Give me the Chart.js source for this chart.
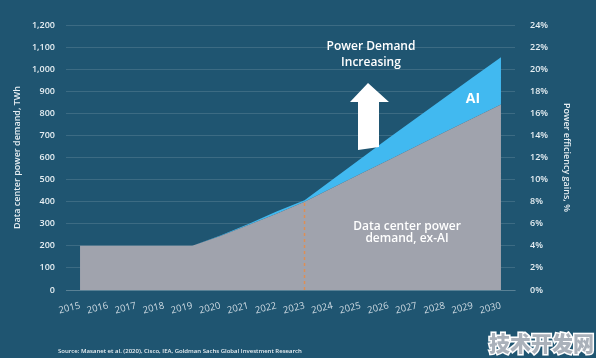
<!DOCTYPE html>
<html>
<head>
<meta charset="utf-8">
<script src="https://cdn.jsdelivr.net/npm/chart.js@4.4.1/dist/chart.umd.min.js"></script>
<style>
  html, body { margin: 0; padding: 0; background: #1f5571; }
  #wrap { width: 596px; height: 358px; position: relative; }
</style>
</head>
<body>
<div id="wrap"><canvas id="myChart" width="596" height="358"></canvas></div>
<script>
const years = ["2015", "2016", "2017", "2018", "2019", "2020", "2021", "2022",
    "2023", "2024", "2025", "2026", "2027", "2028", "2029", "2030"];
// TWh, data center demand excluding AI
const exAI = [200, 200, 200, 200, 200, 245, 294, 345, 400, 463, 526, 589, 652, 715, 778, 840];
// TWh, total demand including AI
const total = [200, 200, 200, 200, 200, 247, 299, 355, 406, 500, 594, 688, 780, 872, 963, 1054];
const markerYear = "2023";

const font = "'Open Sans', 'DejaVu Sans', sans-serif";

const overlay = {
    id: "overlay",
    afterDatasetsDraw(chart) {
        const { ctx, scales } = chart;
        ctx.save();
        // dashed marker at 2023
        const i = years.indexOf(markerYear);
        const x = scales.x.getPixelForValue(i);
        ctx.strokeStyle = "#dd8f55";
        ctx.lineWidth = 1.5;
        ctx.setLineDash([3, 3]);
        ctx.beginPath();
        ctx.moveTo(x, scales.y.getPixelForValue(0));
        ctx.lineTo(x, scales.y.getPixelForValue(exAI[i]));
        ctx.stroke();
        ctx.setLineDash([]);

        // arrow
        ctx.fillStyle = "#ffffff";
        ctx.beginPath();
        ctx.moveTo(368, 83);
        ctx.lineTo(389, 102);
        ctx.lineTo(379, 102);
        ctx.lineTo(379, 147);
        ctx.lineTo(358, 150);
        ctx.lineTo(358, 102);
        ctx.lineTo(350, 102);
        ctx.closePath();
        ctx.fill();

        ctx.textAlign = "center";
        ctx.textBaseline = "middle";
        ctx.fillStyle = "#ffffff";
        ctx.font = "600 12px " + font;
        ctx.fillText("Power Demand", 371, 47);
        ctx.fillText("Increasing", 371, 63);
        ctx.font = "700 14px " + font;
        ctx.fillText("AI", 473, 99);
        ctx.font = "600 12px " + font;
        ctx.fillText("Data center power", 407, 227);
        ctx.fillText("demand, ex-AI", 407, 239);

        ctx.textAlign = "left";
        ctx.font = "600 6px " + font;
        ctx.fillStyle = "#e8eef2";
        ctx.fillText("Source: Masanet et al. (2020), Cisco, IEA, Goldman Sachs Global Investment Research", 58, 351);

        ctx.font = "900 21px 'Noto Sans CJK SC', sans-serif";
        ctx.lineWidth = 3;
        ctx.strokeStyle = "#ffffff";
        ctx.strokeText("技术开发网", 489, 343);
        ctx.fillStyle = "#aab1ba";
        ctx.fillText("技术开发网", 489, 343);
        ctx.restore();
    }
};

new Chart(document.getElementById("myChart"), {
    type: "line",
    data: {
        labels: years,
        datasets: [
            {
                label: "Data center power demand, ex-AI",
                data: exAI,
                borderWidth: 0,
                pointRadius: 0,
                backgroundColor: "#a0a3ad",
                fill: "origin",
                tension: 0,
            },
            {
                label: "AI",
                data: total,
                borderWidth: 0,
                pointRadius: 0,
                backgroundColor: "#41b9f0",
                fill: "-1",
                tension: 0,
            },
        ],
    },
    plugins: [overlay],
    options: {
        responsive: false,
        animation: false,
        layout: { padding: { top: 25, bottom: 0, left: 8, right: 20 } },
        plugins: {
            legend: { display: false },
            tooltip: { enabled: false },
        },
        scales: {
            x: {
                offset: true,
                grid: { display: false },
                border: { display: true, color: "rgba(255,255,255,0.15)" },
                afterFit: (s) => { s.height = 68; },
                ticks: {
                    color: "#cfdbe3",
                    font: { family: font, size: 9.5 },
                    minRotation: 14,
                    maxRotation: 14,
                    padding: 2,
                },
            },
            y: {
                min: 0,
                max: 1200,
                grid: { color: "rgba(255,255,255,0.13)", drawTicks: false },
                border: { display: false },
                afterFit: (s) => { s.width = 58; },
                ticks: {
                    stepSize: 100,
                    color: "#e6eef2",
                    padding: 11,
                    font: { family: font, size: 9, weight: "600" },
                    callback: (v) => v.toLocaleString("en-US"),
                },
                title: {
                    display: true,
                    text: "Data center power demand, TWh",
                    color: "#e6eef2",
                    font: { family: font, size: 9, weight: "600" },
                    padding: { top: 4, bottom: 0 },
                },
            },
            y1: {
                position: "right",
                min: 0,
                max: 24,
                grid: { display: false },
                border: { display: false },
                afterFit: (s) => { s.width = 61; },
                ticks: {
                    stepSize: 2,
                    color: "#e6eef2",
                    padding: 7,
                    font: { family: font, size: 9, weight: "600" },
                    callback: (v) => v + "%",
                },
                title: {
                    display: true,
                    text: "Power efficiency gains, %",
                    color: "#e6eef2",
                    font: { family: font, size: 9, weight: "600" },
                    padding: { top: 4, bottom: 0 },
                },
            },
        },
    },
});
</script>
</body>
</html>
